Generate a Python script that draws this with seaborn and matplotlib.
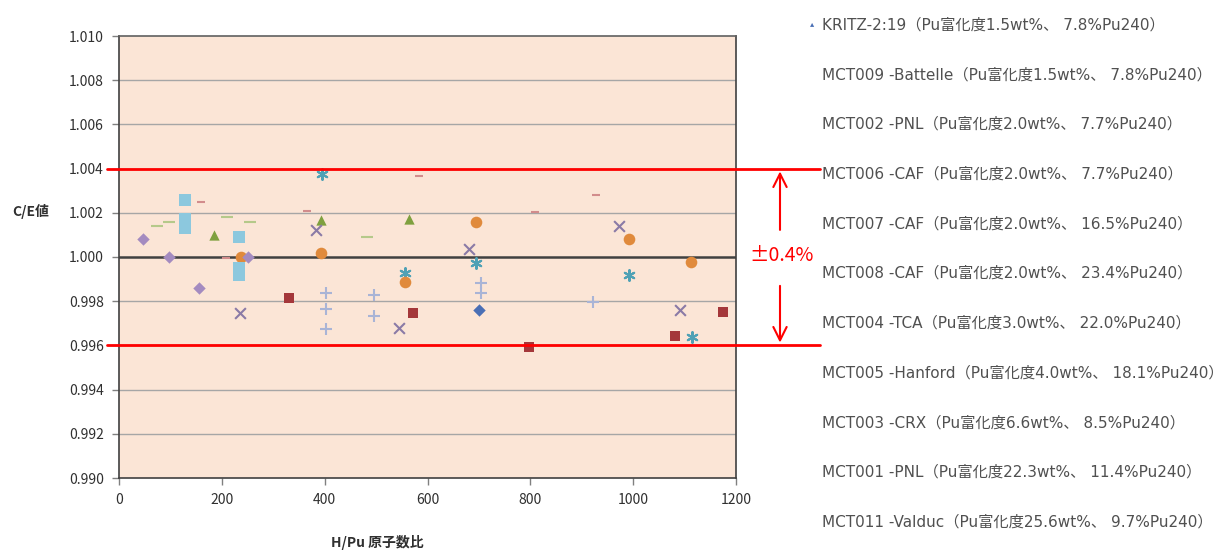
import matplotlib
matplotlib.use("Agg")
import matplotlib.pyplot as plt
import matplotlib.transforms as mtransforms
import pandas as pd
import seaborn as sns

# legend names (order as in the original legend)
series_names = [
    "KRITZ-2:19（Pu富化度1.5wt%、 7.8%Pu240）",
    "MCT009 -Battelle（Pu富化度1.5wt%、 7.8%Pu240）",
    "MCT002 -PNL（Pu富化度2.0wt%、 7.7%Pu240）",
    "MCT006 -CAF（Pu富化度2.0wt%、 7.7%Pu240）",
    "MCT007 -CAF（Pu富化度2.0wt%、 16.5%Pu240）",
    "MCT008 -CAF（Pu富化度2.0wt%、 23.4%Pu240）",
    "MCT004 -TCA（Pu富化度3.0wt%、 22.0%Pu240）",
    "MCT005 -Hanford（Pu富化度4.0wt%、 18.1%Pu240）",
    "MCT003 -CRX（Pu富化度6.6wt%、 8.5%Pu240）",
    "MCT001 -PNL（Pu富化度22.3wt%、 11.4%Pu240）",
    "MCT011 -Valduc（Pu富化度25.6wt%、 9.7%Pu240）",
]

# H/Pu and C/E values per series
kritz_x = [700]
kritz_y = [0.9976]
mct009_x = [331, 572, 798, 1082, 1174]
mct009_y = [0.99816, 0.99747, 0.99594, 0.99643, 0.99750]
mct002_x = [185, 392, 564]
mct002_y = [1.0010, 1.00167, 1.00172]
mct006_x = [235, 384, 545, 680, 972, 1092]
mct006_y = [0.99745, 1.0012, 0.99680, 1.00035, 1.0014, 0.9976]
mct007_x = [394, 556, 694, 992, 1114]
mct007_y = [1.00376, 0.99929, 0.99974, 0.99917, 0.99637]
mct008_x = [238, 392, 556, 694, 992, 1113]
mct008_y = [1.0000, 1.00017, 0.99888, 1.0016, 1.0008, 0.99976]
mct004_x = [402, 402, 402, 495, 495, 705, 705, 922]
mct004_y = [0.99836, 0.99763, 0.99673, 0.99828, 0.99734, 0.99881, 0.99839, 0.99798]
mct005_x = [128, 128, 128, 234, 234, 234]
mct005_y = [1.0026, 1.0017, 1.0013, 1.0009, 0.9995, 0.9992]
mct003_x = [47, 98, 156, 251]
mct003_y = [1.0008, 1.0000, 0.99858, 1.0000]
mct001_x = [74, 97, 211, 255, 482]
mct001_y = [1.0014, 1.0016, 1.0018, 1.0016, 1.0009]
mct011_x = [159, 208, 365, 583, 810, 927]
mct011_y = [1.00247, 0.99994, 1.0021, 1.00367, 1.00204, 1.0028]

all_x = [kritz_x, mct009_x, mct002_x, mct006_x, mct007_x, mct008_x,
         mct004_x, mct005_x, mct003_x, mct001_x, mct011_x]
all_y = [kritz_y, mct009_y, mct002_y, mct006_y, mct007_y, mct008_y,
         mct004_y, mct005_y, mct003_y, mct001_y, mct011_y]

colors = ["#4A6FB5", "#A4373A", "#7FA03F", "#8A7AA6", "#4FA1B5", "#E08A3C",
          "#A9B4D6", "#8CC8DE", "#A48BC0", "#B5C98A", "#D28C8C"]
markers = ["D", "s", "^", "x", (6, 2, 0), "o", "+", "s", "D", "_", "_"]
sizes = [40, 60, 55, 60, 60, 70, 80, 80, 40, 80, 30]

y_ticks = [0.990, 0.992, 0.994, 0.996, 0.998, 1.000, 1.002, 1.004, 1.006, 1.008, 1.010]
x_ticks = [0, 200, 400, 600, 800, 1000, 1200]

sns.set_theme(style="white")
plt.rcParams["font.family"] = ["Noto Sans CJK JP", "DejaVu Sans"]

fig = plt.figure(figsize=(12.22, 5.52), dpi=100)
ax = fig.add_axes([119 / 1222, 74 / 552, 617 / 1222, 442 / 552])
ax.set_facecolor("#FBE5D6")

for name, xs, ys, c, m, s in zip(series_names, all_x, all_y, colors, markers, sizes):
    df = pd.DataFrame({"H/Pu": xs, "C/E": ys})
    line_marker = m in ("x", "+", "_") or isinstance(m, tuple)
    if line_marker:
        sns.scatterplot(data=df, x="H/Pu", y="C/E", ax=ax, marker=m, s=s,
                        color=c, linewidth=1.5, zorder=3)
    else:
        sns.scatterplot(data=df, x="H/Pu", y="C/E", ax=ax, marker=m, s=s,
                        color=c, edgecolor=c, linewidth=0, zorder=3)

ax.set_xlim(0, 1200)
ax.set_ylim(0.990, 1.010)
ax.set_xticks(x_ticks)
ax.set_yticks(y_ticks)
ax.set_yticklabels([f"{v:.3f}" for v in y_ticks], fontsize=10, color="#303030")
ax.set_xticklabels([str(v) for v in x_ticks], fontsize=10, color="#303030")
ax.tick_params(axis="both", length=5, width=1, color="#808080", direction="out", pad=6)
ax.tick_params(axis="y", left=True)
ax.tick_params(axis="x", bottom=True)
ax.set_xlabel("")
ax.set_ylabel("")

for v in y_ticks[1:-1]:
    if abs(v - 1.0) < 1e-9:
        ax.axhline(v, color="#404040", lw=1.8, zorder=1)
    else:
        ax.axhline(v, color="#A6A6A6", lw=1.0, zorder=1)

for sp in ax.spines.values():
    sp.set_color("#404040")
    sp.set_linewidth(1.2)
ax.spines["top"].set_color("#606060")

fig.text(12 / 1222, 1 - 211 / 552, "C/E値", fontsize=10, fontweight="bold",
         color="#303030", va="center", ha="left")
fig.text(377 / 1222, 1 - 543 / 552, "H/Pu 原子数比", fontsize=10, fontweight="bold",
         color="#303030", va="center", ha="center")

# ±0.4% band lines running past the plot
trans = mtransforms.blended_transform_factory(fig.transFigure, ax.transData)
for v in (1.004, 0.996):
    ax.plot([107 / 1222, 820 / 1222], [v, v], transform=trans, color="red",
            lw=2, clip_on=False, zorder=5)

ax_x = 780 / 1222
ax.annotate("", xy=(ax_x, 1.0040), xytext=(ax_x, 1.0011), xycoords=trans,
            textcoords=trans, arrowprops=dict(arrowstyle="->", color="red", lw=1.5,
                                              mutation_scale=24))
ax.annotate("", xy=(ax_x, 0.9960), xytext=(ax_x, 0.99882), xycoords=trans,
            textcoords=trans, arrowprops=dict(arrowstyle="->", color="red", lw=1.5,
                                              mutation_scale=24))
ax.text(782 / 1222, 1.00005, "±0.4%", transform=trans, color="red", fontsize=14,
        ha="center", va="center")

# legend entries (the original shows them as text only)
for i, name in enumerate(series_names):
    y_px = 25 + i * 49.7
    fig.text(822 / 1222, 1 - y_px / 552, name, fontsize=11, color="#505050",
             va="center", ha="left", family=["DejaVu Sans", "Noto Sans CJK JP"])
fig.text(812 / 1222, 1 - 24 / 552, "▴", fontsize=6, color=colors[0],
         va="center", ha="center", family="DejaVu Sans")

fig.savefig("out.png", dpi=100, facecolor="white")
